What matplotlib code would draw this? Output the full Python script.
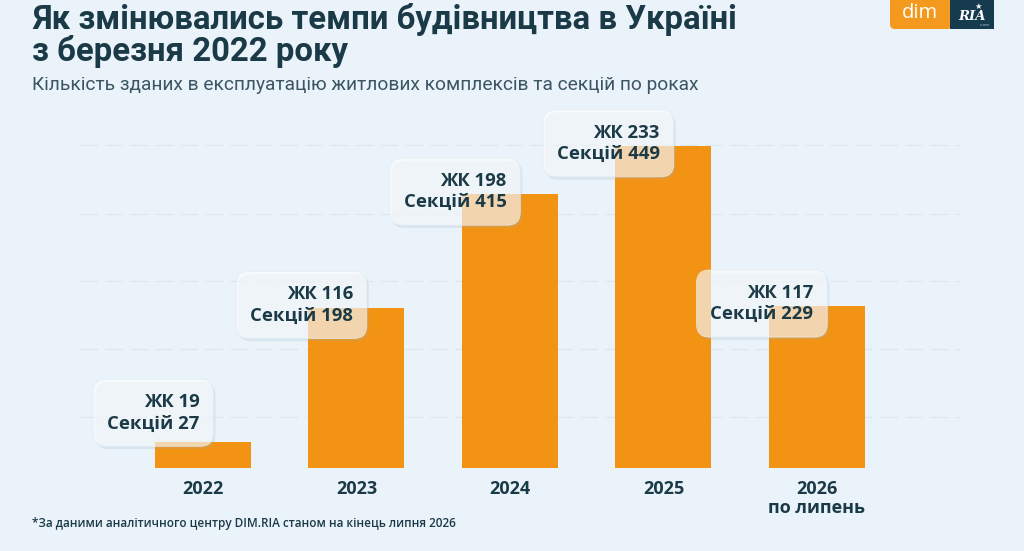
import matplotlib
matplotlib.use("Agg")
import matplotlib.pyplot as plt
from matplotlib.patches import FancyBboxPatch, Rectangle
import matplotlib.patheffects as pe

# ---- data ----
years = ["2022", "2023", "2024", "2025", "2026\nпо липень"]
zhk = [19, 116, 198, 233, 117]
sections = [27, 198, 415, 449, 229]
grid_levels = [37, 86, 135, 184, 234]

title = "Як змінювались темпи будівництва в Україні\nз березня 2022 року"
subtitle = "Кількість зданих в експлуатацію житлових комплексів та секцій по роках"
footnote = "*За даними аналітичного центру DIM.RIA станом на кінець липня 2026"

# ---- style ----
BG = "#EAF3FA"
BAR = "#F39314"
NAVY = "#1B3A47"
W, H = 1024, 551

fig = plt.figure(figsize=(W / 100, H / 100), dpi=100, facecolor=BG)
ax = fig.add_axes([80 / W, (H - 468) / H, 880 / W, 368 / H])
ax.set_facecolor(BG)

x = list(range(len(years)))
bw = 0.625
ax.bar(x, zhk, width=bw, color=BAR, zorder=2)

ax.set_xlim(-0.801, 4.932)
ax.set_ylim(0, 266.3)
ax.set_yticks(grid_levels)
ax.yaxis.grid(True, color="#DCE6EF", linestyle=(0, (14, 6)), linewidth=0.9, zorder=0)
ax.tick_params(axis="y", left=False, labelleft=False)
ax.set_xticks(x)
ax.set_xticklabels(years, fontfamily="Open Sans", fontweight="bold", fontsize=13,
                   color=NAVY, linespacing=1.05)
ax.tick_params(axis="x", bottom=False, pad=5)
for s in ax.spines.values():
    s.set_visible(False)

# ---- value boxes ----
for i in x:
    yanchor = max(zhk[i], 38) + 2
    ann = ax.annotate(f"ЖК {zhk[i]}\nСекцій {sections[i]}",
                      xy=(i - bw / 2, yanchor), xytext=(32, 0),
                      textcoords="offset points", ha="right", va="center",
                      fontfamily="Open Sans", fontweight="bold", fontsize=13.3,
                      color=NAVY, linespacing=1.25, multialignment="right",
                      zorder=5,
                      bbox=dict(boxstyle="round,pad=0.75,rounding_size=0.7",
                                facecolor=(1, 1, 1, 0.6),
                                edgecolor=(0.88, 0.92, 0.95, 0.8), linewidth=0.6))
    ann.get_bbox_patch().set_path_effects(
        [pe.SimplePatchShadow(offset=(1.5, -2), shadow_rgbFace=(0.6, 0.68, 0.76), alpha=0.2),
         pe.Normal()])

# ---- titles ----
fig.text(32 / W, 1 - 3 / H, title, ha="left", va="top", fontfamily="Roboto",
         fontweight="bold", fontsize=23.7, color=NAVY, linespacing=0.98)
fig.text(32 / W, 1 - 85 / H, subtitle, ha="left", va="center", fontfamily="Roboto",
         fontsize=13.8, color="#3C5563")
fig.text(32 / W, 1 - 524 / H, footnote, ha="left", va="center", fontfamily="Open Sans",
         fontweight="semibold", fontsize=8.5, color=NAVY)

# ---- logo ----
logo_ax = fig.add_axes([0, 0, 1, 1], facecolor="none")
logo_ax.set_xlim(0, W)
logo_ax.set_ylim(H, 0)
logo_ax.axis("off")
logo_ax.add_patch(FancyBboxPatch((890, -10), 62, 39, boxstyle="round,pad=0,rounding_size=5",
                                 facecolor="#F39A1E", edgecolor="none"))
logo_ax.add_patch(Rectangle((950, -1), 44, 30, facecolor="#163A4E", edgecolor="none"))
logo_ax.text(920, 13, "dim", ha="center", va="center", color="white",
             fontfamily="Open Sans", fontsize=14.5)
logo_ax.text(972, 16, "RIA", ha="center", va="center", color="white",
             fontfamily="DejaVu Serif", fontweight="bold", fontstyle="italic", fontsize=9.5)
logo_ax.text(978, 6, "★", ha="center", va="center", color="white", fontsize=6)
logo_ax.text(985, 25, ".com", ha="center", va="center", color="#B9C6D0", fontsize=3)

fig.savefig("out.png", dpi=100, facecolor=BG)
